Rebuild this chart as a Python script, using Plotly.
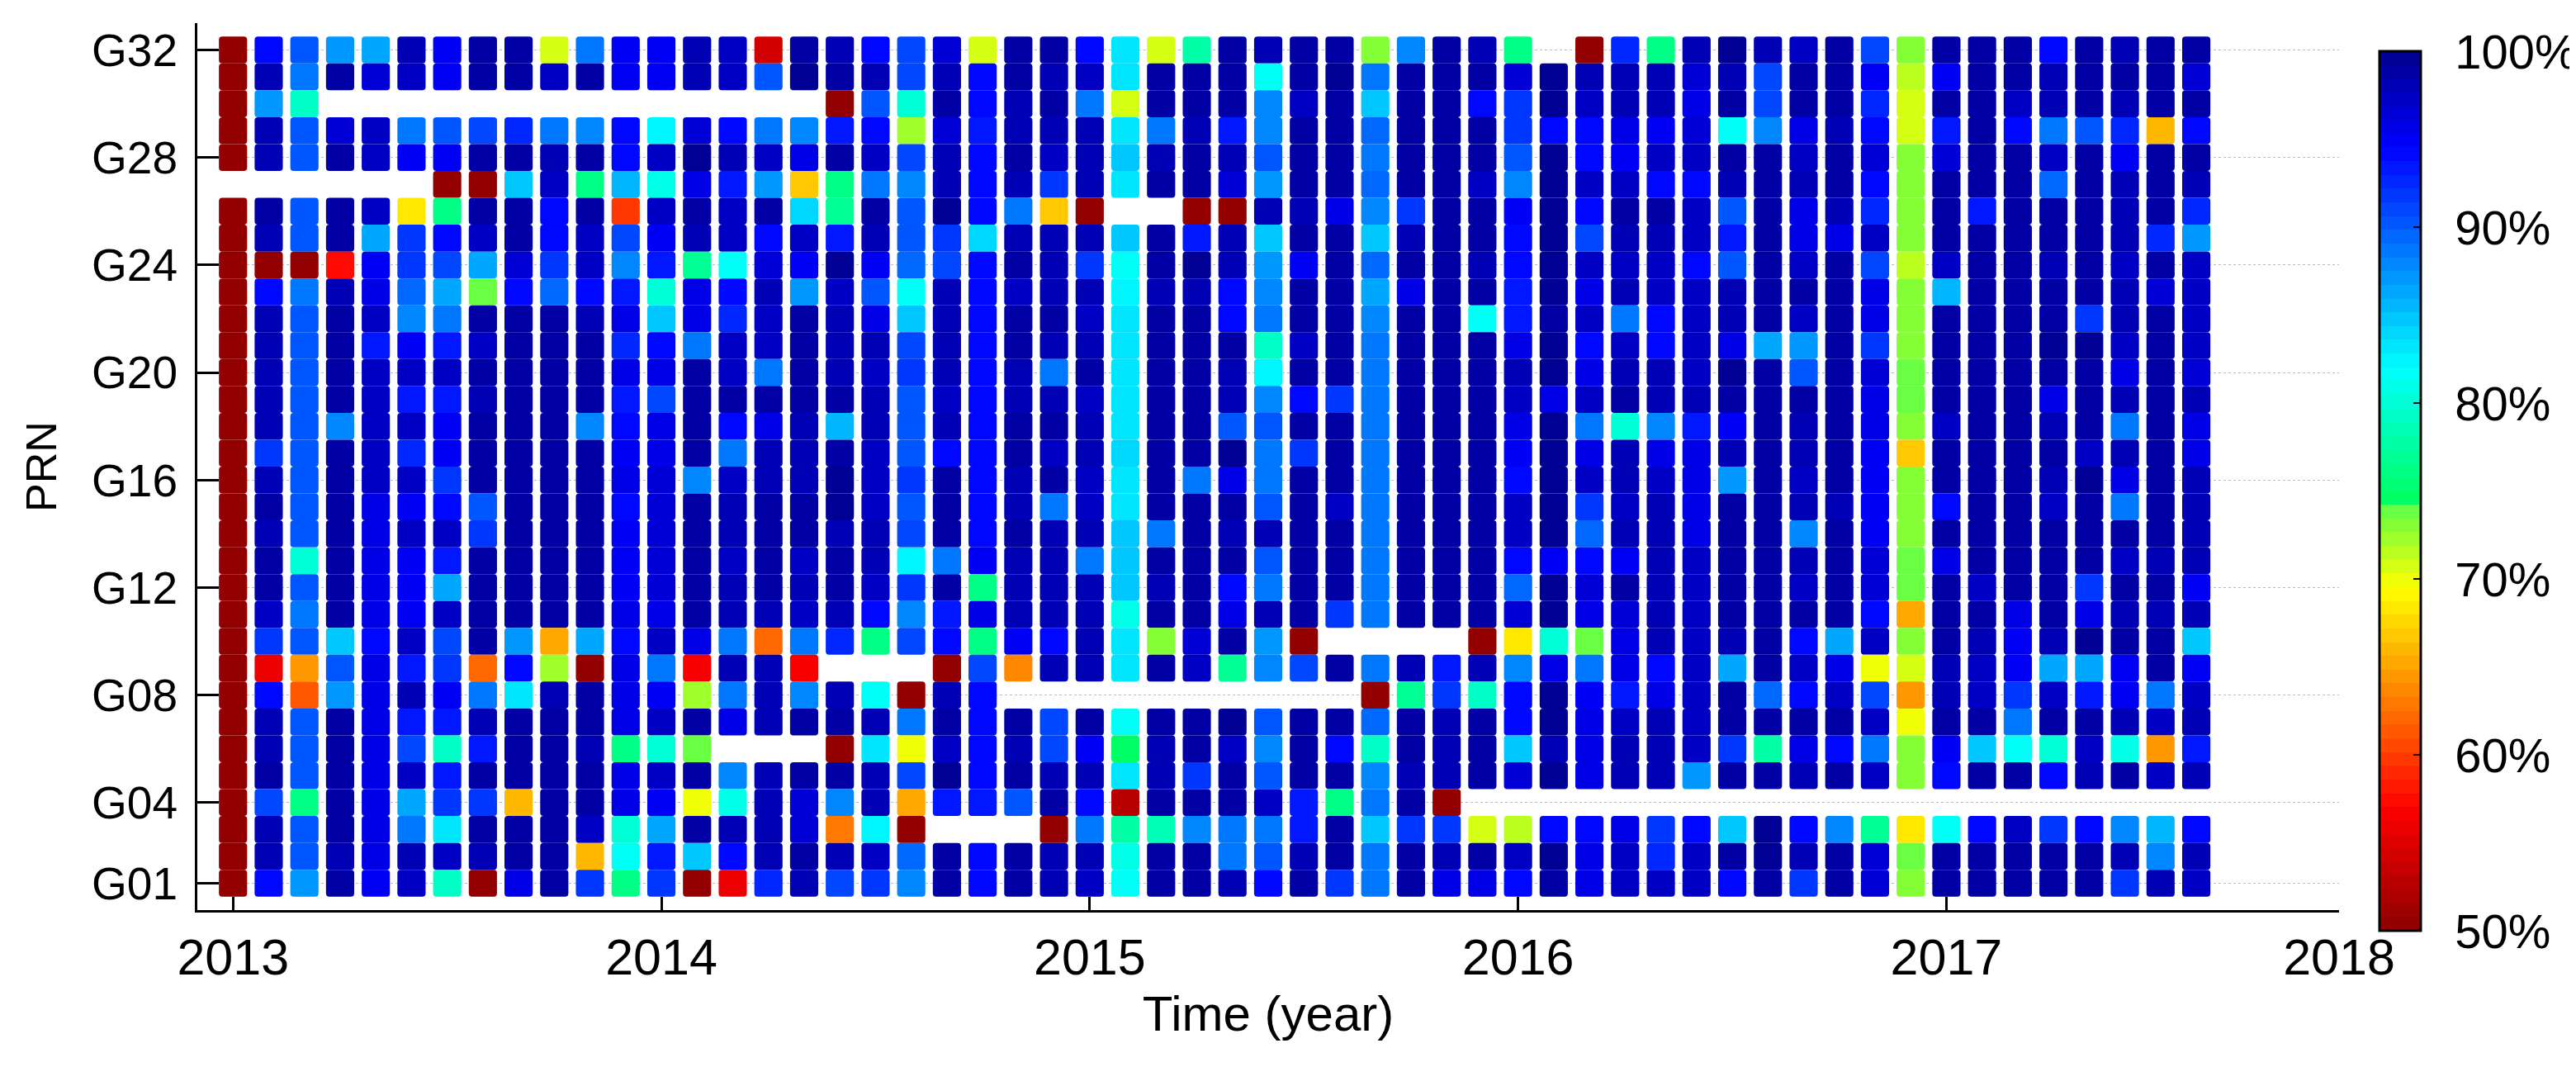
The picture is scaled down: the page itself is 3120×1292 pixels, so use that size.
import plotly.graph_objects as go

N = None
# Monthly availability (%) from Jan 2013; each list runs from G32 down to G01
m00 = [50,50,50,50,50,N,50,50,50,50,50,50,50,50,50,50,50,50,50,50,50,50,50,50,50,50,50,50,50,50,50,50]
m01 = [94.5,98,87,98,98,N,98.5,98,50,94.5,98,98,98,98,98,92,98,99,98,99,99,97.5,91.5,56,94.5,98,98,99,91,98,98,94.5]
m02 = [90,89,79.5,90,90,N,90,90,50,88.5,90,90,90,90,90,90,90,90,90,80,90,89,90,64.5,61,90,90,90,76,90,90,87]
m03 = [87,99,N,96.5,99,N,99,99,57.5,98,99,99,99,99,88,99,99,99,99,99,99,99,85,90,87,99,99,99,99,99,98,99]
m04 = [86.5,96.5,N,97,97,N,97,86.5,95,96,97,93.5,97,97,97,97,97,96,96,96,96,96,94.5,96,96,96,96,96,96,96,96,95]
m05 = [98,97,N,89,95,N,68,92,92,89.5,88,95,97,93,97,92.5,97,95,97.5,95,95,95,97.5,93,98,93,91,97,86,89,98,97]
m06 = [95,95,N,90.5,95,50,76.5,94.5,91,86.5,88.5,93,97,93,95,95,92,94.5,97,93,86.5,97,91,91.5,95,93,79.5,93,92,83.5,97,79.5]
m07 = [99,98.5,N,91,98.5,50,99,97.5,86.5,74,99,97,99,98,98.5,99,98.5,90,91.5,99,99,99,99,62,89,98,93.5,98.5,92,99,98,50]
m08 = [99,98.5,N,92.5,98.5,85,99,99,96.5,94.5,99,99,99,99,99,99,99,99,99,99,99,99,87,94.5,83.5,98.5,99,99,66,99,98.5,96]
m09 = [70.5,97.5,N,88.5,98,97,94.5,94.5,92,89.5,99,99,99,99,99,99,99,99,99,99,99,99,65.5,72,98,99,99,99,99,99,99,99]
m10 = [89,99,N,88,99,76,99,97,97,94.5,98,99,99,99,88,99,99,99,99,99,99,99,86,50,99,99,98,99,99,97.5,66,92]
m11 = [95,95,N,94.5,94.5,85.5,60,91,87.5,93,96,92.5,96,93,94.5,95,96,94.5,95,95,95,96,94.5,96,96,96,76,96,96,80,82,76]
m12 = [95,95,N,82.5,97,81,97,95,93,80,85,94.5,96,91,95.5,96,96.5,96.5,96.5,96.5,96.5,95.5,97,89,95,97,80,97,95,86,93,92]
m13 = [98,98,N,96.5,99.5,96,98.5,98,77,96,96,89,98.5,99,98.5,99,88,99,98.5,99,99,98.5,96,57,72,99,74,99,70,98.5,85,50]
m14 = [97,97,N,94.5,98,93,97,97,82,94.5,92.5,97,97,98.5,94.5,89,97,98,98,97.5,98,98,89,98,89,96,N,88,81,98,94.5,56]
m15 = [54,90,N,88.5,97,87,99,94.5,96.5,98,97,97,89,99,96,98,98,99,99,98.5,98.5,98,62,98,98,98,N,98,98,98,98,92.5]
m16 = [99,99.5,N,87.5,96,66.5,84,97,95,87,99,99,99,99,98,98,98,99,98.5,97.5,98,97.5,88.5,57,88,99,N,99,96.5,96.5,99,98]
m17 = [98,99,50,93.5,99,76,77,93,99.5,97,98,98,98,99,85.5,98.5,99.5,99.5,98,98.5,98.5,98,92.5,N,98,98.5,50,98.5,88,63,98,91]
m18 = [94.5,98,90,94.5,97,89,99,98,95,90.5,96,98,97,98,98,97,97,97,98,98,97,94.5,76.5,N,82,98,83,98,98,82.5,97,92]
m19 = [91,91,80,72,91,88,90.5,90.5,89.5,82,85,91,92,90,90.5,90.5,92,90,91,82.5,92,88,91,N,50,89,70,91,65,50,89.5,88]
m20 = [96.5,98,98.5,96.5,98,98,99.5,92,91,98,98,98,98,97,98,94.5,98.5,99,98.5,89,98.5,93,94.5,50,98,98.5,97,99.5,93,N,99,99]
m21 = [70.5,94.5,94.5,93,94.5,94.5,94.5,84,94.5,94.5,94.5,94.5,94.5,94.5,94.5,94.5,94.5,94.5,94.5,95,76.5,96,76.5,91,94.5,94.5,94.5,94.5,93.5,N,94.5,94.5]
m22 = [99,99,98,98,99,98,88.5,98,99,97,99,99,98,98,99,99,98,98,99,98,98,98,95,64,N,99,98,99,90,N,99,99]
m23 = [99,98,99,98,97.5,92,66.5,98,98,98,99,98,88.5,98,98.5,97,99,88.5,98,98,98,98,94.5,98,N,91,91,98,98.5,50,98,98]
m24 = [94.5,97,89,98,98,98,50,98,92,98,97,98,99,97.5,98,98,97,97,98,88.5,98,98,98,98,N,99,95,98,94.5,88.5,98,97]
m25 = [83,83,71,83,84.5,83,N,84.5,82,82.5,83,83,83,83,83,84,83,83,84.5,84.5,84.5,81,83,83,N,82,74.5,83.5,53,77.5,81,81.5]
m26 = [71,99,99,89,98,99,N,99,99,98,99,99,99,99,98.5,99,99,99,89,99,98,99,73,99,N,99,98,98,98.5,78.5,99,99]
m27 = [77.5,99,99,98,99,99,50,93,99.5,98,99,99,99,99,99,99,88.5,99,99,99,99,99,96.5,97,N,99,99,92,99,88,99,99]
m28 = [99,99,99,93,98,96.5,50,98,98,94.5,94.5,99,98,98,90,99.5,96,98.5,98,99,94.5,96,99,77,N,99.5,97,99,99,88.5,88.5,98]
m29 = [98,81.5,88,88,90,87,98,85,87,88,88.5,79.5,82.5,88,90,89,89,90,98,90,89,98,87,87.5,N,90,87.5,90,97,89,90,94.5]
m30 = [98.5,98.5,97,99,99,99,98,99,95,99,99,97.5,99,94.5,99,92,99,99,99,99,99,99,50,91,N,99,99,99,93,93,98,99]
m31 = [99,99.5,99,99,99,99,95.5,99,99,99,99,99,99,91.5,99,99,99,97.5,99,99,99,92,N,99,N,99,94.5,99,76,99,99,92]
m32 = [73,89,85,89.5,88.5,89.5,88,85,89.5,86.5,88,89,89,89,89,89,89,89,89,89,89,89,N,89,50,89.5,79,88,89,85,89,89]
m33 = [87.5,99,99,99,99,99,92,98,99,95.5,99,99,99,99,99,99,99,99,99,99,99,99,N,98,77,99,99,98,99,92,99,99]
m34 = [99,99,99,99,98.5,99,99,98.5,98.5,98.5,98.5,98.5,99,99,99,99,98.5,99,98.5,99,99,99,N,93,92,98,98,98,50,92,98,96]
m35 = [98,98.5,94.5,99,99,97,99,98.5,98,98.5,82,99,99,99,99,99,99,99,99,98.5,99,99,50,98,79.5,98.5,98.5,99,N,70.5,98.5,96]
m36 = [76.5,96.5,92,92,90.5,88,95,94.5,94.5,93,93,95.5,98,97,96,95,94.5,97,97,94.5,89.5,96.5,68.5,88,94.5,94.5,84.5,96.5,N,71.5,97,94.5]
m37 = [N,99.5,99.5,94.5,99.5,99.5,99.5,99.5,99.5,99.5,98.5,99.5,99.5,95.5,99.5,99.5,99.5,99.5,99.5,95,99.5,99.5,80,95.5,99.5,99.5,98,99.5,N,94.5,99.5,98.5]
m38 = [50,98,97,94.5,94.5,97,94.5,91,97,96,97,94.5,96,97,88.5,96,97,91.5,89.5,94.5,96.5,96,74,89,95,96,96,96,N,94.5,96,96]
m39 = [92.5,98,98,96,95,97,98.5,98,97,98,89,97,98,98.5,80,98,98,97,98,95,99,96.5,96,96,93.5,97.5,98,98,N,95.5,97,97]
m40 = [76,98,98,95,97,94.5,98.5,98,97,97,94.5,94.5,98,98,88,96,97,98,98,98,98,98,98,94,96,98,98,98,N,92,92.5,97]
m41 = [98,96.5,96,96.5,97,94.5,97.5,97,94.5,97,97.5,97,97,98,93,96,96,95.5,96,97,97.5,97,97,97,97,97.5,97,87,N,94.5,97,97]
m42 = [99.5,98,98.5,82,98.5,98,90,93,90,98,98,95.5,99.5,99,95,98,87,98.5,99,98.5,98.5,99,98,86.5,98.5,99,91.5,99,N,84.5,99,94.5]
m43 = [98,91,91,88,99,99,99,99,98.5,98.5,99,86.5,99,99,98.5,99,99,99,99,98.5,99,99,98.5,99,89.5,99,78,99,N,99.5,99.5,99]
m44 = [97.5,99,99,96,97.5,98,95.5,96,97.5,99,97,87,90,99,98,98,97.5,98,88,98,97.5,99,94.5,97,94.5,99,96,98,N,94.5,98,91.5]
m45 = [99,99,99,98,99,99,98,96,99,99,99,99,99,99,99,99,99,98,99,99,99,99,86,96,97,99,94.5,99,N,87.5,99,99]
m46 = [91,95,92.5,94.5,96.5,94.5,92.5,97,91,96,96,92,96.5,95.5,96,95,95,95,95,96.5,96.5,94.5,97,70,91,97,88.5,97,N,77,96.5,96.5]
m47 = [73,71.5,71,71,73,73,73,73,71.5,73,73,73,74,74,73,66.5,73,73,73,74,74,65.5,73,71,64.5,70,73,73,N,68.5,74,73]
m48 = [98.5,95,99,93,96.5,99,98.5,98.5,97,85.5,98.5,99,99,99,97.5,98.5,99,94.5,99,96,99,98.5,99,98,98,99,95,94.5,N,81.5,98.5,98.5]
m49 = [98.5,98.5,98.5,98.5,98.5,98.5,93,99,99,99,99,99,99,99,99,99,98.5,99,99,99,97.5,99,98,97,97,99,84.5,99,N,94.5,99,98.5]
m50 = [99,99,97.5,94.5,99,99,98.5,99,99,98.5,99,99,99,99,99,99,99,99,99,99,99,96,95,95,92,89,82,99,N,97,99,99]
m51 = [94.5,98,98,89,97,89.5,99,98.5,98,98.5,98.5,99.5,99,96,98,98.5,98,97.5,99,98.5,98.5,98.5,98,86,97,98.5,80,94.5,N,92,98.5,98.5]
m52 = [98.5,99,99,90.5,99,99,98.5,98.5,98.5,98.5,92,99.5,99,99,99,97,99.5,99,98.5,99,92,96,99.5,86.5,93,99,97,98,N,94.5,99,98.5]
m53 = [98,98.5,98,92.5,95,98,98,98,97,98,98,97.5,96,98,89,98,96,89,98.5,97.5,98.5,98,98.5,95,95,98,81,99,N,87.5,98,92]
m54 = [99,99,99,66,99,99,98.5,92.5,98.5,96.5,98.5,99,99,99,98.5,98.5,99,98.5,98.5,98,99,98,99,98.5,89,97,64.5,97.5,N,85.5,88,98]
m55 = [98.5,96.5,98.5,94.5,98.5,98,92.5,87,97.5,97.5,97.5,97,96.5,98,96,96,98,98,98,98,95,98,84.5,95,97,98,93,98,N,94.5,98,97.5]

months = [m00,m01,m02,m03,m04,m05,m06,m07,m08,m09,m10,m11,m12,m13,m14,m15,m16,m17,m18,m19,
          m20,m21,m22,m23,m24,m25,m26,m27,m28,m29,m30,m31,m32,m33,m34,m35,m36,m37,m38,m39,
          m40,m41,m42,m43,m44,m45,m46,m47,m48,m49,m50,m51,m52,m53,m54,m55]
prns = list(range(32, 0, -1))
y_tick_vals = [1, 4, 8, 12, 16, 20, 24, 28, 32]
y_tick_text = ["G01", "G04", "G08", "G12", "G16", "G20", "G24", "G28", "G32"]
x_tick_vals = [0, 12, 24, 36, 48, 59]
x_tick_text = ["2013", "2014", "2015", "2016", "2017", "2018"]
cbar_vals = [50, 60, 70, 80, 90, 100]
cbar_text = ["\u00a0\u2009%d%%" % v for v in cbar_vals]

for m in months:
    assert len(m) == 32

# Colour anchors (value, rgb) as seen on the colour bar
anchors = [(50,(140,0,0)),(57,(255,0,0)),(69.5,(255,255,0)),(74.4,(85,255,75)),(74.6,(0,255,100)),
           (82,(0,255,255)),(94.5,(0,0,255)),(100,(0,0,140))]
def col_at(v):
    for (a, ca), (b, cb) in zip(anchors, anchors[1:]):
        if a <= v <= b:
            t = (v - a) / (b - a)
            return tuple(round(p + (q - p) * t) for p, q in zip(ca, cb))
    return anchors[-1][1]
LEVELS = 64
colorscale = []
for i in range(LEVELS):
    c = "rgb(%d,%d,%d)" % col_at(50 + 50 * (i + 0.5) / LEVELS)
    colorscale += [[i / LEVELS, c], [(i + 1) / LEVELS, c]]

xs, ys, zs = [], [], []
for i, m in enumerate(months):
    for p, v in zip(prns, m):
        if v is not None:
            xs.append(i); ys.append(p); zs.append(v)

FONT = "Liberation Sans"
fig = go.Figure(go.Bar(
    x=xs, y=[1.0] * len(xs), base=[p - 0.5 for p in ys], width=0.79,
    marker=dict(color=zs, colorscale=colorscale, cmin=50, cmax=100, cornerradius=4, line=dict(width=0),
                colorbar=dict(thickness=50, thicknessmode="pixels", len=1065, lenmode="pixels",
                              x=1.0189, xanchor="left", xpad=0, y=0.968, yanchor="top", ypad=0,
                              tickmode="array", tickvals=cbar_vals, ticktext=cbar_text,
                              ticks="inside", ticklen=10, tickwidth=2,
                              tickcolor="black", outlinecolor="black", outlinewidth=3,
                              tickfont=dict(family=FONT, size=58, color="black"))),
    hoverinfo="skip"))
fig.update_layout(
    width=3120, height=1292, barmode="overlay", showlegend=False,
    paper_bgcolor="white", plot_bgcolor="white",
    margin=dict(l=231, r=295, t=20, b=198, autoexpand=False),
    font=dict(family=FONT, color="black", size=56),
    xaxis=dict(range=[-1, 59], tickmode="array", tickvals=x_tick_vals, ticktext=x_tick_text,
               ticks="inside", ticklen=16, tickwidth=3, tickcolor="black",
               showline=True, linecolor="black", linewidth=3, showgrid=False, zeroline=False,
               tickfont=dict(family=FONT, size=61), ticklabelstandoff=2,
               title=dict(text="Time (year)", font=dict(family=FONT, size=60), standoff=14)),
    yaxis=dict(range=[0, 33], tickmode="array", tickvals=y_tick_vals, ticktext=y_tick_text,
               ticks="inside", ticklen=26, tickwidth=3, tickcolor="black",
               showline=True, linecolor="black", linewidth=3,
               showgrid=True, gridcolor="#bbbbbb", griddash="dot", gridwidth=1, zeroline=False,
               tickfont=dict(family=FONT, size=55), ticklabelstandoff=10,
               title=dict(text="PRN", font=dict(family=FONT, size=52), standoff=26)),
)
fig.write_html("out.html")
